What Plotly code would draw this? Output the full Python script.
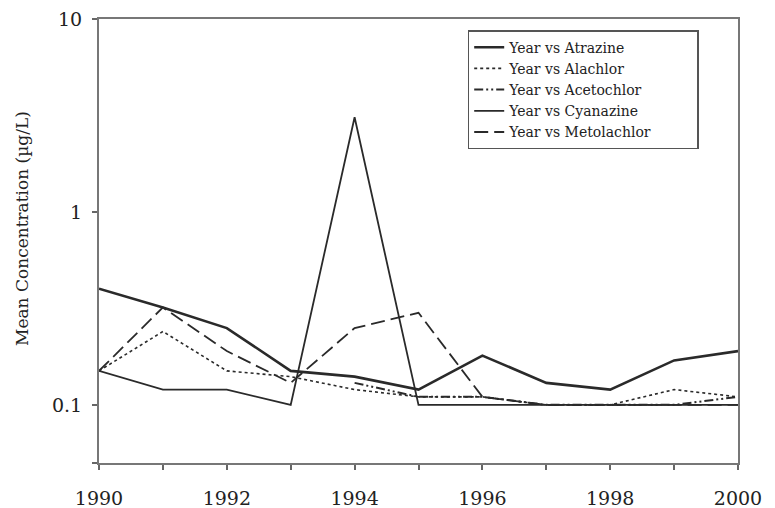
import plotly.graph_objects as go

years = [1990, 1991, 1992, 1993, 1994, 1995, 1996, 1997, 1998, 1999, 2000]
atrazine = [0.40, 0.32, 0.25, 0.15, 0.14, 0.12, 0.18, 0.13, 0.12, 0.17, 0.19]
alachlor = [0.15, 0.24, 0.15, 0.14, 0.12, 0.11, 0.11, 0.10, 0.10, 0.12, 0.11]
acetochlor = [None, None, None, None, 0.13, 0.11, 0.11, 0.10, 0.10, 0.10, 0.11]
cyanazine = [0.15, 0.12, 0.12, 0.10, 3.1, 0.10, 0.10, 0.10, 0.10, 0.10, 0.10]
metolachlor = [0.15, 0.32, 0.19, 0.13, 0.25, 0.30, 0.11, 0.10, 0.10, 0.10, 0.10]

x_tickvals = years
x_ticktext = ["1990", "", "1992", "", "1994", "", "1996", "", "1998", "", "2000"]
y_tickvals = [0.05, 0.1, 1, 10]
y_ticktext = ["", "0.1", "1", "10"]
y_title = "Mean Concentration (µg/L)"

FONT = "DejaVu Serif"
C = "#2a2a2a"
PAD = "\u00a0" * 9

series = [
    ("Year vs Atrazine", atrazine, dict(color=C, width=2.6, dash="solid")),
    ("Year vs Alachlor", alachlor, dict(color=C, width=1.6, dash="dot")),
    ("Year vs Acetochlor", acetochlor, dict(color=C, width=2.0, dash="9px,3px,2px,3px,2px,3px")),
    ("Year vs Cyanazine", cyanazine, dict(color=C, width=1.8, dash="solid")),
    ("Year vs Metolachlor", metolachlor, dict(color=C, width=1.8, dash="14px,6px")),
]

fig = go.Figure()
for name, vals, line in series:
    fig.add_trace(go.Scatter(x=years, y=vals, name=name + PAD, mode="lines", line=line,
                             connectgaps=False))

fig.update_layout(
    width=767, height=500,
    margin=dict(l=91, r=37, t=11, b=45, autoexpand=False),
    paper_bgcolor="white", plot_bgcolor="white",
    font=dict(family=FONT, color="#222"),
    showlegend=True,
    legend=dict(x=0.577, y=0.975, xanchor="left", yanchor="top",
                bordercolor="#555", borderwidth=1.5, bgcolor="white",
                font=dict(family=FONT, size=14, color="#222"),
                tracegroupgap=0),
    annotations=[dict(text=y_title, textangle=-90, xref="paper", yref="paper",
                      x=-0.1205, y=0.527, xanchor="center", yanchor="middle",
                      showarrow=False, font=dict(family=FONT, size=17, color="#222"))],
)
fig.update_xaxes(
    range=[1990, 2000], tickmode="array", tickvals=x_tickvals, ticktext=x_ticktext,
    ticks="outside", ticklen=5, tickwidth=1.5, tickcolor="#666",
    showline=True, linecolor="#777", linewidth=2, mirror=True,
    showgrid=False, zeroline=False, automargin=False,
    tickfont=dict(family=FONT, size=19, color="#222"),
    ticklabelstandoff=12, ticklabeloverflow="allow",
)
fig.update_yaxes(
    type="log", range=[-1.3015, 1.0005], tickmode="array", tickvals=y_tickvals, ticktext=y_ticktext,
    ticks="outside", ticklen=5, tickwidth=1.5, tickcolor="#666",
    showline=True, linecolor="#777", linewidth=2, mirror=True,
    showgrid=False, zeroline=False, automargin=False,
    tickfont=dict(family=FONT, size=19, color="#222"),
    ticklabelstandoff=6, ticklabeloverflow="allow",
)

fig.write_html("out.html")
